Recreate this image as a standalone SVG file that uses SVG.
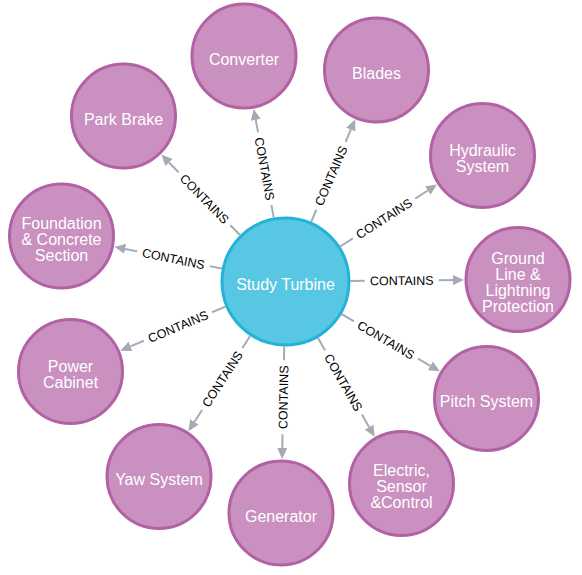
<svg xmlns="http://www.w3.org/2000/svg" width="582" height="575" viewBox="0 0 582 575">
<style>
  .bg { fill: #ffffff; }
  .node circle { fill: #C990C0; stroke: #B261A5; stroke-width: 3; }
  #n-center circle { fill: #57C7E3; stroke: #23B3D7; stroke-width: 3; }
  .node text { font-family: "Liberation Sans", Arial, Helvetica, sans-serif; font-size: 16px; fill: #ffffff; text-anchor: middle; }
  .edge line { stroke: #A5ABB6; stroke-width: 2; fill: none; }
  .edge text { font-family: "Liberation Sans", Arial, Helvetica, sans-serif; font-size: 12.5px; fill: #000000; text-anchor: middle; }
</style>
<defs>
  <marker id="arrow" markerUnits="userSpaceOnUse" viewBox="0 0 11 10" refX="0" refY="5" markerWidth="11" markerHeight="10" orient="auto">
    <path d="M0,0 L11,5 L0,10 Z" fill="#A5ABB6"/>
  </marker>
</defs>
<rect class="bg" x="0" y="0" width="582" height="575"/>

<g id="connectors">
  <g class="edge" id="e-converter" transform="translate(285.5 281.5) rotate(-100.43)">
    <line x1="65" y1="0" x2="77.65" y2="0"/>
    <line x1="151.65" y1="0" x2="164.29" y2="0" marker-end="url(#arrow)"/>
    <text x="114.65" y="4.5" transform="rotate(180 114.65 0)">CONTAINS</text>
  </g>
  <g class="edge" id="e-blades" transform="translate(285.5 281.5) rotate(-66.72)">
    <line x1="65" y1="0" x2="78.13" y2="0"/>
    <line x1="152.13" y1="0" x2="165.25" y2="0" marker-end="url(#arrow)"/>
    <text x="115.13" y="4.5">CONTAINS</text>
  </g>
  <g class="edge" id="e-hydraulic" transform="translate(285.5 281.5) rotate(-32.6)">
    <line x1="65" y1="0" x2="79.93" y2="0"/>
    <line x1="153.93" y1="0" x2="168.85" y2="0" marker-end="url(#arrow)"/>
    <text x="116.93" y="4.5">CONTAINS</text>
  </g>
  <g class="edge" id="e-ground" transform="translate(285.5 281.5) rotate(-0.49)">
    <line x1="65" y1="0" x2="79.26" y2="0"/>
    <line x1="153.26" y1="0" x2="167.51" y2="0" marker-end="url(#arrow)"/>
    <text x="116.26" y="4.5">CONTAINS</text>
  </g>
  <g class="edge" id="e-pitch" transform="translate(285.5 281.5) rotate(30.2)">
    <line x1="65" y1="0" x2="79.29" y2="0"/>
    <line x1="153.29" y1="0" x2="167.57" y2="0" marker-end="url(#arrow)"/>
    <text x="116.29" y="4.5">CONTAINS</text>
  </g>
  <g class="edge" id="e-electric" transform="translate(285.5 281.5) rotate(60.13)">
    <line x1="65" y1="0" x2="79.47" y2="0"/>
    <line x1="153.47" y1="0" x2="167.94" y2="0" marker-end="url(#arrow)"/>
    <text x="116.47" y="4.5">CONTAINS</text>
  </g>
  <g class="edge" id="e-generator" transform="translate(285.5 281.5) rotate(91.11)">
    <line x1="65" y1="0" x2="78.77" y2="0"/>
    <line x1="152.77" y1="0" x2="166.54" y2="0" marker-end="url(#arrow)"/>
    <text x="115.77" y="4.5" transform="rotate(180 115.77 0)">CONTAINS</text>
  </g>
  <g class="edge" id="e-yaw" transform="translate(285.5 281.5) rotate(122.97)">
    <line x1="65" y1="0" x2="79.22" y2="0"/>
    <line x1="153.22" y1="0" x2="167.44" y2="0" marker-end="url(#arrow)"/>
    <text x="116.22" y="4.5" transform="rotate(180 116.22 0)">CONTAINS</text>
  </g>
  <g class="edge" id="e-power" transform="translate(285.5 281.5) rotate(157.29)">
    <line x1="65" y1="0" x2="79.54" y2="0"/>
    <line x1="153.54" y1="0" x2="168.08" y2="0" marker-end="url(#arrow)"/>
    <text x="116.54" y="4.5" transform="rotate(180 116.54 0)">CONTAINS</text>
  </g>
  <g class="edge" id="e-foundation" transform="translate(285.5 281.5) rotate(-168.52)">
    <line x1="65" y1="0" x2="77.29" y2="0"/>
    <line x1="151.29" y1="0" x2="163.57" y2="0" marker-end="url(#arrow)"/>
    <text x="114.29" y="4.5" transform="rotate(180 114.29 0)">CONTAINS</text>
  </g>
  <g class="edge" id="e-parkbrake" transform="translate(285.5 281.5) rotate(-134.39)">
    <line x1="65" y1="0" x2="78.8" y2="0"/>
    <line x1="152.8" y1="0" x2="166.59" y2="0" marker-end="url(#arrow)"/>
    <text x="115.8" y="4.5" transform="rotate(180 115.8 0)">CONTAINS</text>
  </g>
</g>

<g class="node" id="n-center">
  <circle cx="285.5" cy="281.5" r="63.5"/>
  <text x="285.5" y="290">Study Turbine</text>
</g>
<g class="node" id="n-converter">
  <circle cx="244" cy="56" r="52"/>
  <text x="244" y="64.5">Converter</text>
</g>
<g class="node" id="n-blades">
  <circle cx="376.5" cy="70" r="52"/>
  <text x="376.5" y="78.5">Blades</text>
</g>
<g class="node" id="n-hydraulic">
  <circle cx="482.5" cy="155.5" r="52"/>
  <text x="482.5" y="156">Hydraulic</text>
  <text x="482.5" y="172">System</text>
</g>
<g class="node" id="n-ground">
  <circle cx="518" cy="279.5" r="52"/>
  <text x="518" y="264">Ground</text>
  <text x="518" y="280">Line &amp;</text>
  <text x="518" y="296">Lightning</text>
  <text x="518" y="312">Protection</text>
</g>
<g class="node" id="n-pitch">
  <circle cx="486.5" cy="398.5" r="52"/>
  <text x="486.5" y="407">Pitch System</text>
</g>
<g class="node" id="n-electric">
  <circle cx="401.5" cy="483.5" r="52"/>
  <text x="401.5" y="476">Electric,</text>
  <text x="401.5" y="492">Sensor</text>
  <text x="401.5" y="508">&amp;Control</text>
</g>
<g class="node" id="n-generator">
  <circle cx="281" cy="513" r="52"/>
  <text x="281" y="521.5">Generator</text>
</g>
<g class="node" id="n-yaw">
  <circle cx="159" cy="476.5" r="52"/>
  <text x="159" y="485">Yaw System</text>
</g>
<g class="node" id="n-power">
  <circle cx="70.5" cy="371.5" r="52"/>
  <text x="70.5" y="372">Power</text>
  <text x="70.5" y="388">Cabinet</text>
</g>
<g class="node" id="n-foundation">
  <circle cx="61.5" cy="236" r="52"/>
  <text x="61.5" y="228.5">Foundation</text>
  <text x="61.5" y="244.5">&amp; Concrete</text>
  <text x="61.5" y="260.5">Section</text>
</g>
<g class="node" id="n-parkbrake">
  <circle cx="123.5" cy="116" r="52"/>
  <text x="123.5" y="124.5">Park Brake</text>
</g>
</svg>
